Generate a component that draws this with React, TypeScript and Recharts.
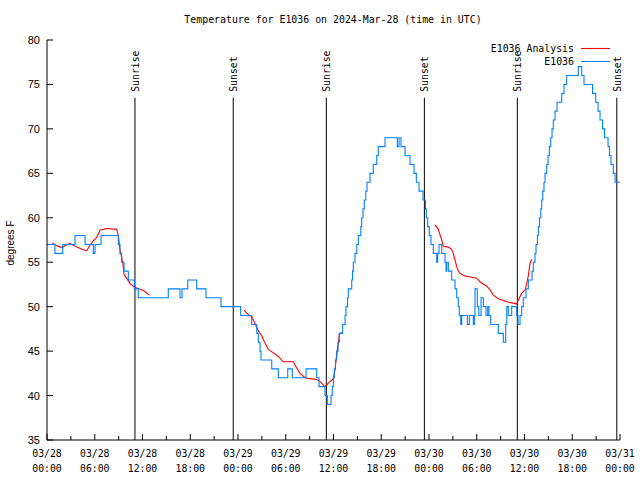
import React from 'react';
import { LineChart, Line, XAxis, YAxis, ReferenceLine } from 'recharts';

// ---- Data (hours since 2024-03-28 00:00 UTC) ----
const obsHours = [0, 1.0, 1.97, 3.52, 4.78, 5.82, 6.03, 6.79, 8.96, 9.17, 9.38, 9.68, 10.22, 10.97, 11.47, 15.24, 16.71, 16.97, 17.68, 18.81, 19.98, 21.86, 24.34, 25.72, 26.35, 26.55, 26.77, 26.89, 28.24, 29.07, 30.25, 30.82, 32.55, 33.89, 34.18, 34.93, 35.22, 35.69, 35.85, 35.98, 36.1, 36.25, 36.4, 36.57, 36.73, 37.15, 37.45, 37.57, 37.76, 37.86, 38.29, 38.39, 38.49, 38.7, 38.92, 39.12, 39.43, 39.54, 39.71, 39.87, 40.06, 40.21, 40.59, 41.0, 41.43, 41.63, 42.47, 44.02, 44.23, 44.48, 44.99, 45.61, 46.12, 46.41, 46.75, 47.25, 47.56, 47.66, 47.84, 48.04, 48.25, 48.54, 48.97, 49.09, 49.26, 49.6, 50.01, 50.14, 50.22, 50.43, 50.85, 51.27, 51.48, 51.68, 51.81, 51.99, 52.11, 52.82, 53.07, 53.57, 53.7, 53.78, 54.07, 54.25, 54.54, 54.83, 55.16, 55.38, 55.54, 55.75, 56.71, 57.34, 57.64, 57.77, 57.97, 58.39, 59.02, 59.19, 59.44, 59.65, 59.85, 60.19, 60.48, 60.95, 61.11, 61.32, 61.45, 61.63, 61.74, 61.89, 62.05, 62.16, 62.29, 62.45, 62.58, 62.79, 62.96, 63.12, 63.3, 63.46, 63.62, 63.84, 64.09, 64.68, 64.97, 65.3, 66.76, 67.19, 67.48, 68.55, 68.95, 69.24, 69.49, 69.8, 70.06, 70.5, 70.68, 70.87, 71.16, 71.38, 72];
const obsTemps = [57, 56, 57, 58, 57, 56, 57, 58, 57, 56, 55, 54, 53, 52, 51, 52, 51, 52, 53, 52, 51, 50, 49, 48, 47, 46, 45, 44, 43, 42, 43, 42, 43, 42, 41, 40, 39, 40, 41, 42, 43, 44, 45, 46, 47, 48, 49, 50, 51, 52, 53, 54, 55, 56, 57, 58, 59, 60, 61, 62, 63, 64, 65, 66, 67, 68, 69, 68, 69, 68, 67, 66, 65, 64, 63, 62, 61, 60, 59, 58, 57, 56, 55, 56, 57, 56, 55, 54, 55, 54, 53, 52, 51, 50, 49, 48, 49, 48, 49, 48, 49, 52, 50, 49, 51, 50, 49, 50, 49, 48, 47, 46, 48, 50, 49, 50, 49, 48, 49, 50, 51, 52, 53, 54, 55, 56, 57, 58, 59, 60, 61, 62, 63, 64, 65, 66, 67, 68, 69, 70, 71, 72, 73, 74, 75, 76, 77, 76, 75, 74, 73, 72, 71, 70, 69, 68, 67, 66, 65, 64, 64];

const anaHours1 = [0.67, 1.13, 1.63, 2.0, 2.48, 2.89, 3.73, 4.56, 4.99, 5.4, 5.82, 6.25, 6.66, 7.5, 8.76, 8.96, 9.17, 9.51, 9.68, 10.09, 10.43, 10.84, 11.27, 11.9, 12.31, 12.85];
const anaTemps1 = [57.2, 56.9, 56.7, 56.7, 57.0, 57.1, 56.7, 56.4, 56.3, 56.9, 57.4, 57.8, 58.6, 58.8, 58.7, 58.0, 56.4, 55.0, 53.6, 53.1, 52.6, 52.3, 52.1, 51.9, 51.7, 51.3];
const anaHours2 = [24.75, 25.3, 25.72, 26.14, 26.55, 26.98, 27.39, 27.81, 28.44, 29.07, 29.69, 30.32, 30.95, 31.38, 31.79, 32.42, 33.05, 33.89, 34.3, 34.72, 34.93, 35.35, 35.98, 36.19, 36.4, 36.6, 36.73, 37.03];
const anaTemps2 = [49.6, 49.1, 48.9, 48.1, 47.3, 46.7, 45.9, 45.2, 44.8, 44.4, 43.8, 43.8, 43.8, 43.1, 42.5, 42.0, 41.9, 41.8, 41.6, 41.2, 41.0, 41.4, 41.9, 42.9, 44.6, 45.9, 46.9, 47.1];
const anaHours3 = [48.76, 49.17, 49.38, 49.6, 49.8, 50.43, 50.85, 51.05, 51.27, 51.48, 51.81, 52.53, 53.37, 54.0, 54.41, 54.83, 55.25, 55.67, 56.08, 56.71, 57.34, 57.97, 58.6, 59.02, 59.23, 59.65, 60.07, 60.28, 60.48, 60.7, 60.91];
const anaTemps3 = [59.2, 58.7, 58.1, 57.5, 56.8, 56.7, 56.45, 56.0, 55.25, 54.5, 53.8, 53.45, 53.3, 53.2, 52.8, 52.55, 52.3, 51.9, 51.3, 50.9, 50.7, 50.5, 50.4, 50.3, 50.75, 51.5, 51.9, 52.6, 53.5, 54.9, 55.3];

const sunHours = [11.05, 23.4, 35.1, 47.42, 59.1, 71.6];
const sunLabels = ['Sunrise', 'Sunset', 'Sunrise', 'Sunset', 'Sunrise', 'Sunset'];

const xTicks = [0, 3, 6, 9, 12, 15, 18, 21, 24, 27, 30, 33, 36, 39, 42, 45, 48, 51, 54, 57, 60, 63, 66, 69, 72];
const xMajorHours = [0, 6, 12, 18, 24, 30, 36, 42, 48, 54, 60, 66, 72];
const xLabelDates = ['03/28', '03/28', '03/28', '03/28', '03/29', '03/29', '03/29', '03/29', '03/30', '03/30', '03/30', '03/30', '03/31'];
const xLabelTimes = ['00:00', '06:00', '12:00', '18:00', '00:00', '06:00', '12:00', '18:00', '00:00', '06:00', '12:00', '18:00', '00:00'];
const yTicks = [35, 40, 45, 50, 55, 60, 65, 70, 75, 80];

const TITLE = 'Temperature for E1036 on 2024-Mar-28 (time in UTC)';
const Y_LABEL = 'degrees F';
const LEGEND_NAMES = ['E1036 Analysis', 'E1036'];

// ---- Styles ----
const BLUE = '#0080ff';
const RED = '#ff0000';
const MONO = '"DejaVu Sans Mono", "Liberation Mono", monospace';
const SANS = '"Liberation Sans", Arial, sans-serif';
const SUN_LINE_TOP = 73.5;

const toRows = (hs: number[], ts: number[]) => hs.map((h, i) => ({ h, t: ts[i] }));
const obsData = toRows(obsHours, obsTemps);
const ana1 = toRows(anaHours1, anaTemps1);
const ana2 = toRows(anaHours2, anaTemps2);
const ana3 = toRows(anaHours3, anaTemps3);

const BottomTick = (props: any) => {
  const { x, y, payload } = props;
  const idx = xMajorHours.indexOf(payload.value);
  const major = idx >= 0;
  return (
    <g>
      <line x1={x} x2={x} y1={y} y2={y - (major ? 6 : 4)} stroke="#000" strokeWidth={1} />
      {major && (
        <text x={x} y={y + 17} textAnchor="middle" fontFamily={MONO} fontSize={9.8} fill="#000">
          {xLabelDates[idx]}
        </text>
      )}
      {major && (
        <text x={x} y={y + 32} textAnchor="middle" fontFamily={MONO} fontSize={9.8} fill="#000">
          {xLabelTimes[idx]}
        </text>
      )}
    </g>
  );
};

const TopTick = (props: any) => {
  const { x, y, payload } = props;
  const major = xMajorHours.indexOf(payload.value) >= 0;
  return <line x1={x} x2={x} y1={y} y2={y + (major ? 6 : 4)} stroke="#000" strokeWidth={1} />;
};

const LeftTick = (props: any) => {
  const { x, y, payload } = props;
  return (
    <g>
      <line x1={x} x2={x + 6} y1={y} y2={y} stroke="#000" strokeWidth={1} />
      <text x={x - 7} y={y + 4} textAnchor="end" fontFamily={SANS} fontSize={11} fill="#000">
        {payload.value}
      </text>
    </g>
  );
};

const RightTick = (props: any) => {
  const { x, y } = props;
  return <line x1={x} x2={x - 6} y1={y} y2={y} stroke="#000" strokeWidth={1} />;
};

const sunLabel = (text: string) => (props: any) => {
  const vb = props.viewBox || {};
  const x = (vb.x ?? 0) + 4;
  const y = (vb.y ?? 0) - 6;
  return (
    <text x={x} y={y} transform={`rotate(-90 ${x} ${y})`} fontFamily={MONO} fontSize={9.8} fill="#000">
      {text}
    </text>
  );
};

export default function App() {
  return (
    <div style={{ position: 'absolute', left: 0, top: 0, width: 640, height: 480, background: '#fff' }}>
      <LineChart width={640} height={480} margin={{ top: 40, right: 20, bottom: 0, left: 0 }}>
        <XAxis
          xAxisId={0}
          dataKey="h"
          type="number"
          domain={[0, 72]}
          ticks={xTicks}
          interval={0}
          height={40}
          tickSize={0}
          tickMargin={0}
          tickLine={false}
          axisLine={{ stroke: '#000', strokeWidth: 1 }}
          tick={<BottomTick />}
          allowDataOverflow
        />
        <XAxis
          xAxisId="top"
          orientation="top"
          dataKey="h"
          type="number"
          domain={[0, 72]}
          ticks={xTicks}
          interval={0}
          height={0}
          tickSize={0}
          tickMargin={0}
          tickLine={false}
          axisLine={{ stroke: '#000', strokeWidth: 1 }}
          tick={<TopTick />}
          allowDataOverflow
        />
        <YAxis
          yAxisId={0}
          type="number"
          domain={[35, 80]}
          ticks={yTicks}
          interval={0}
          width={47}
          tickSize={0}
          tickMargin={0}
          tickLine={false}
          axisLine={{ stroke: '#000', strokeWidth: 1 }}
          tick={<LeftTick />}
          allowDataOverflow
        />
        <YAxis
          yAxisId="right"
          orientation="right"
          type="number"
          domain={[35, 80]}
          ticks={yTicks}
          interval={0}
          width={0}
          tickSize={0}
          tickMargin={0}
          tickLine={false}
          axisLine={{ stroke: '#000', strokeWidth: 1 }}
          tick={<RightTick />}
          allowDataOverflow
        />
        {sunHours.map((h, i) => (
          <ReferenceLine
            key={'sun' + i}
            segment={[{ x: h, y: SUN_LINE_TOP }, { x: h, y: 35 }]}
            stroke="#000"
            strokeWidth={1}
            label={sunLabel(sunLabels[i])}
          />
        ))}
        <Line data={ana1} dataKey="t" type="linear" stroke={RED} strokeWidth={1.1} dot={false} isAnimationActive={false} />
        <Line data={ana2} dataKey="t" type="linear" stroke={RED} strokeWidth={1.1} dot={false} isAnimationActive={false} />
        <Line data={ana3} dataKey="t" type="linear" stroke={RED} strokeWidth={1.1} dot={false} isAnimationActive={false} />
        <Line data={obsData} dataKey="t" type="stepAfter" stroke={BLUE} strokeWidth={1.1} dot={false} isAnimationActive={false} />
      </LineChart>
      <svg width={640} height={480} style={{ position: 'absolute', left: 0, top: 0, pointerEvents: 'none' }}>
        <text x={333} y={23} textAnchor="middle" fontFamily={MONO} fontSize={9.9} fill="#000">{TITLE}</text>
        <text x={14} y={243} textAnchor="middle" transform="rotate(-90 14 243)" fontFamily={SANS} fontSize={10} fill="#000">{Y_LABEL}</text>
        <text x={574} y={52} textAnchor="end" fontFamily={MONO} fontSize={9.9} fill="#000">{LEGEND_NAMES[0]}</text>
        <line x1={581} x2={610} y1={48.5} y2={48.5} stroke={RED} strokeWidth={1.1} />
        <text x={574} y={65} textAnchor="end" fontFamily={MONO} fontSize={9.9} fill="#000">{LEGEND_NAMES[1]}</text>
        <line x1={581} x2={610} y1={61.5} y2={61.5} stroke={BLUE} strokeWidth={1.1} />
      </svg>
    </div>
  );
}
